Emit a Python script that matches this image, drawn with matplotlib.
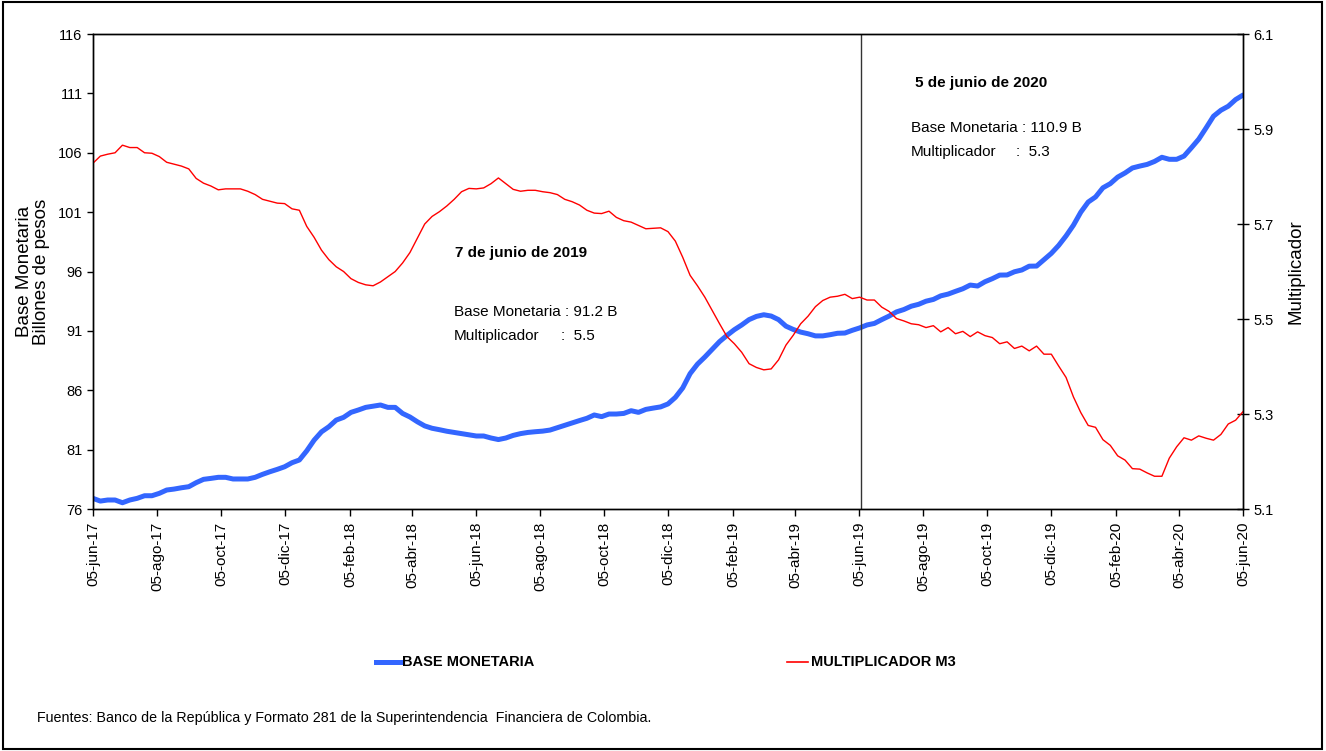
import matplotlib
matplotlib.use('Agg')
import matplotlib.pyplot as plt
import pandas as pd
from matplotlib.patches import Rectangle
from matplotlib.lines import Line2D

# weekly observations, 05-jun-17 .. 05-jun-20
dates = pd.date_range('2017-06-05', '2020-06-05', periods=157)

base_monetaria = [
    76.90, 76.67, 76.76, 76.76, 76.53, 76.76, 76.90, 77.12, 77.12, 77.32,
    77.60, 77.68, 77.79, 77.88, 78.22, 78.50, 78.58, 78.67, 78.67, 78.53,
    78.53, 78.53, 78.67, 78.92, 79.14, 79.34, 79.56, 79.90, 80.13, 80.90,
    81.80, 82.50, 82.93, 83.49, 83.72, 84.14, 84.34, 84.56, 84.66, 84.76,
    84.56, 84.56, 84.05, 83.75, 83.35, 83.00, 82.80, 82.68, 82.55, 82.45,
    82.35, 82.25, 82.15, 82.15, 81.98, 81.85, 81.98, 82.20, 82.35, 82.45,
    82.51, 82.56, 82.65, 82.85, 83.05, 83.25, 83.45, 83.64, 83.92, 83.78,
    84.00, 84.00, 84.05, 84.28, 84.14, 84.39, 84.50, 84.60, 84.85, 85.40,
    86.20, 87.40, 88.20, 88.80, 89.45, 90.10, 90.62, 91.10, 91.50, 91.95,
    92.22, 92.36, 92.25, 91.95, 91.40, 91.12, 90.90, 90.76, 90.58, 90.58,
    90.68, 90.80, 90.82, 91.05, 91.25, 91.50, 91.63, 91.95, 92.25, 92.60,
    92.80, 93.08, 93.24, 93.50, 93.65, 93.95, 94.10, 94.33, 94.55, 94.86,
    94.78, 95.14, 95.40, 95.70, 95.71, 95.98, 96.13, 96.45, 96.46, 97.00,
    97.53, 98.20, 99.00, 99.90, 101.00, 101.85, 102.28, 103.05, 103.40, 103.95,
    104.30, 104.72, 104.88, 105.02, 105.27, 105.62, 105.45, 105.45, 105.72, 106.42,
    107.15, 108.10, 109.08, 109.58, 109.92, 110.48, 110.86,
]

multiplicador = [
    5.828, 5.843, 5.847, 5.850, 5.866, 5.861, 5.861, 5.850, 5.849, 5.842,
    5.830, 5.826, 5.822, 5.816, 5.796, 5.786, 5.780, 5.772, 5.774, 5.774,
    5.774, 5.769, 5.762, 5.752, 5.748, 5.744, 5.743, 5.732, 5.729, 5.695,
    5.672, 5.645, 5.625, 5.610, 5.600, 5.585, 5.577, 5.572, 5.570, 5.578,
    5.589, 5.600, 5.618, 5.640, 5.670, 5.700, 5.716, 5.726, 5.738, 5.752,
    5.768, 5.775, 5.774, 5.776, 5.785, 5.797, 5.785, 5.773, 5.769, 5.771,
    5.771, 5.768, 5.766, 5.762, 5.752, 5.747, 5.740, 5.729, 5.723, 5.722,
    5.727, 5.714, 5.707, 5.704, 5.697, 5.690, 5.691, 5.692, 5.684, 5.664,
    5.630, 5.592, 5.570, 5.546, 5.518, 5.490, 5.463, 5.448, 5.430, 5.406,
    5.398, 5.393, 5.395, 5.414, 5.445, 5.466, 5.490, 5.506, 5.526, 5.539,
    5.546, 5.548, 5.552, 5.543, 5.546, 5.540, 5.540, 5.525, 5.516, 5.501,
    5.496, 5.490, 5.488, 5.482, 5.486, 5.473, 5.482, 5.469, 5.474, 5.463,
    5.473, 5.465, 5.461, 5.448, 5.452, 5.438, 5.443, 5.433, 5.443, 5.426,
    5.426, 5.401, 5.377, 5.336, 5.303, 5.276, 5.272, 5.246, 5.234, 5.212,
    5.203, 5.185, 5.184, 5.176, 5.169, 5.169, 5.207, 5.231, 5.250, 5.245,
    5.254, 5.249, 5.245, 5.257, 5.279, 5.287, 5.305,
]

tick_dates = ['2017-06-05', '2017-08-05', '2017-10-05', '2017-12-05', '2018-02-05',
              '2018-04-05', '2018-06-05', '2018-08-05', '2018-10-05', '2018-12-05',
              '2019-02-05', '2019-04-05', '2019-06-05', '2019-08-05', '2019-10-05',
              '2019-12-05', '2020-02-05', '2020-04-05', '2020-06-05']
tick_labels = ['05-jun-17', '05-ago-17', '05-oct-17', '05-dic-17', '05-feb-18',
               '05-abr-18', '05-jun-18', '05-ago-18', '05-oct-18', '05-dic-18',
               '05-feb-19', '05-abr-19', '05-jun-19', '05-ago-19', '05-oct-19',
               '05-dic-19', '05-feb-20', '05-abr-20', '05-jun-20']
marker_date = '2019-06-07'

narrow = ['Liberation Sans Narrow', 'Liberation Sans', 'DejaVu Sans']
plt.rcParams['font.family'] = ['Liberation Sans', 'DejaVu Sans']

blue = '#3366FF'
red = '#FF0000'

fig = plt.figure(figsize=(13.26, 7.51), dpi=100)
ax = fig.add_axes([0.0701, 0.3222, 0.8673, 0.6325])
ax2 = ax.twinx()

ax.plot(dates, base_monetaria, color=blue, lw=3.6, solid_capstyle='round')
ax2.plot(dates, multiplicador, color=red, lw=1.0)
ax.axvline(pd.Timestamp(marker_date), color='#333333', lw=1.0)

ax.set_xlim(pd.Timestamp('2017-06-05'), pd.Timestamp('2020-06-05'))
ax.set_ylim(76, 116)
ax.set_yticks(range(76, 117, 5))
ax2.set_ylim(5.1, 6.1)
ax2.set_yticks([5.1, 5.3, 5.5, 5.7, 5.9, 6.1])
ax2.set_yticklabels(['5.1', '5.3', '5.5', '5.7', '5.9', '6.1'])

ax.set_xticks(pd.to_datetime(tick_dates))
ax.set_xticklabels(tick_labels, rotation=90, fontsize=11)
ax.tick_params(axis='x', direction='out', length=5, width=1, pad=4)
ax.tick_params(axis='y', direction='out', length=4, width=1, labelsize=10.5)
ax2.tick_params(axis='y', direction='inout', length=8, width=1, labelsize=10.5)

for a in (ax, ax2):
    for s in a.spines.values():
        s.set_linewidth(1.0)

ax.set_ylabel('Base Monetaria\nBillones de pesos', fontsize=13.5, labelpad=6, linespacing=0.95)
ax2.set_ylabel('Multiplicador', fontsize=13.5, labelpad=10)

# annotations
ax.text(0.315, 0.539, '7 de junio de 2019', transform=ax.transAxes, family=narrow,
        fontsize=11, fontweight='bold', va='center')
ax.text(0.314, 0.415, 'Base Monetaria : 91.2 B', transform=ax.transAxes, family=narrow,
        fontsize=11, va='center')
ax.text(0.314, 0.364, 'Multiplicador', transform=ax.transAxes, family=narrow,
        fontsize=11, va='center')
ax.text(0.407, 0.364, ':  5.5', transform=ax.transAxes, family=narrow,
        fontsize=11, va='center')

ax.text(0.715, 0.897, '5 de junio de 2020', transform=ax.transAxes, family=narrow,
        fontsize=11, fontweight='bold', va='center')
ax.text(0.711, 0.802, 'Base Monetaria : 110.9 B', transform=ax.transAxes, family=narrow,
        fontsize=11, va='center')
ax.text(0.711, 0.752, 'Multiplicador', transform=ax.transAxes, family=narrow,
        fontsize=11, va='center')
ax.text(0.803, 0.752, ':  5.3', transform=ax.transAxes, family=narrow,
        fontsize=11, va='center')

# legend
fig.add_artist(Line2D([376 / 1326, 400 / 1326], [1 - 662 / 751] * 2, color=blue, lw=3.6))
fig.text(402 / 1326, 1 - 662 / 751, 'BASE MONETARIA', family=narrow, fontsize=10.5,
         fontweight='bold', va='center')
fig.add_artist(Line2D([787 / 1326, 808 / 1326], [1 - 662 / 751] * 2, color=red, lw=1.2))
fig.text(811 / 1326, 1 - 662 / 751, 'MULTIPLICADOR M3', family=narrow, fontsize=10.5,
         fontweight='bold', va='center')

fig.text(37 / 1326, 1 - 718 / 751,
         'Fuentes: Banco de la República y Formato 281 de la Superintendencia  Financiera de Colombia.',
         family=narrow, fontsize=10.3, va='center')

fig.add_artist(Rectangle((0.002, 0.003), 0.995, 0.994, transform=fig.transFigure,
                         fill=False, edgecolor='black', lw=1.5))

fig.savefig('out.png', dpi=100)
